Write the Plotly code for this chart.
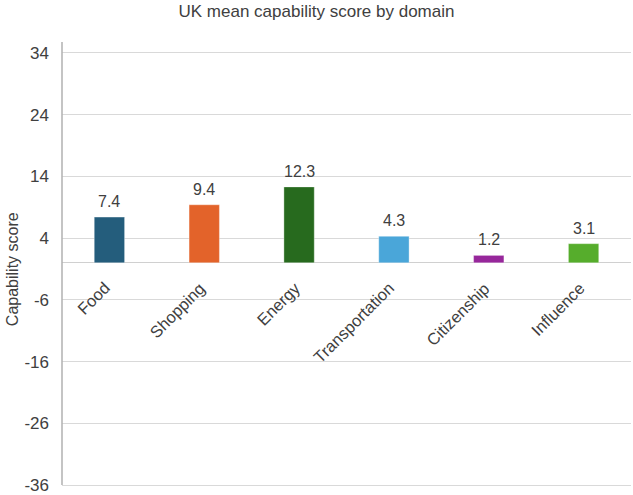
import plotly.graph_objects as go

categories = ["Food", "Shopping", "Energy", "Transportation", "Citizenship", "Influence"]
values = [7.4, 9.4, 12.3, 4.3, 1.2, 3.1]
colors = ["#245d7c", "#e3632a", "#276a1e", "#4aa6d9", "#97279b", "#56ad2c"]
tick_vals = [-36, -26, -16, -6, 4, 14, 24, 34]
tick_text = ["-36", "-26", "-16", "-6", "4", "14", "24", "34"]

FONT = "Liberation Sans, Arial"
TXT = "#404040"

fig = go.Figure()
fig.add_trace(go.Bar(
    x=categories, y=values,
    marker=dict(color=colors, line=dict(color="rgba(255,255,255,0.35)", width=1)),
    width=0.32,
    cliponaxis=False,
))

for c, v in zip(categories, values):
    fig.add_annotation(
        x=c, y=v, xref="x", yref="y", text=f"{v:.1f}", showarrow=False,
        xanchor="center", yanchor="bottom", yshift=5,
        font=dict(family=FONT, size=16, color=TXT),
    )
    fig.add_annotation(
        x=c, y=0, xref="x", yref="y", text=c, showarrow=False,
        textangle=-45, xanchor="right", yanchor="top",
        xshift=7, yshift=-13,
        font=dict(family=FONT, size=16.5, color=TXT),
    )

fig.add_annotation(
    x=-0.088, y=0.495, xref="paper", yref="paper", xanchor="center", yanchor="middle",
    text="Capability score", textangle=-90, showarrow=False,
    font=dict(family=FONT, size=16, color=TXT),
)

fig.update_layout(
    width=633, height=495,
    margin=dict(l=62, r=2, t=42, b=0),
    paper_bgcolor="white", plot_bgcolor="white",
    showlegend=False,
    title=dict(text="UK mean capability score by domain", x=0.5, xanchor="center",
               y=0.99, yanchor="top",
               font=dict(family=FONT, size=17, color=TXT)),
    xaxis=dict(showticklabels=False, showgrid=False, zeroline=False, showline=False,
               range=[-0.5, 5.5]),
    yaxis=dict(range=[-37.13, 35.77], tickvals=tick_vals, ticktext=tick_text,
               showgrid=True, gridcolor="#d9d9d9",
               gridwidth=1, zeroline=True, zerolinecolor="#d0d0d0", zerolinewidth=1,
               showline=False,
               ticklabelstandoff=12, ticklabeloverflow="allow",
               tickfont=dict(family=FONT, size=17, color=TXT)),
    shapes=[dict(type="line", xref="paper", yref="paper", x0=0, x1=0,
                 y0=(495 - 488) / 453, y1=1,
                 line=dict(color="#b0b0b0", width=1.5))],
)

fig.write_html("out.html")
